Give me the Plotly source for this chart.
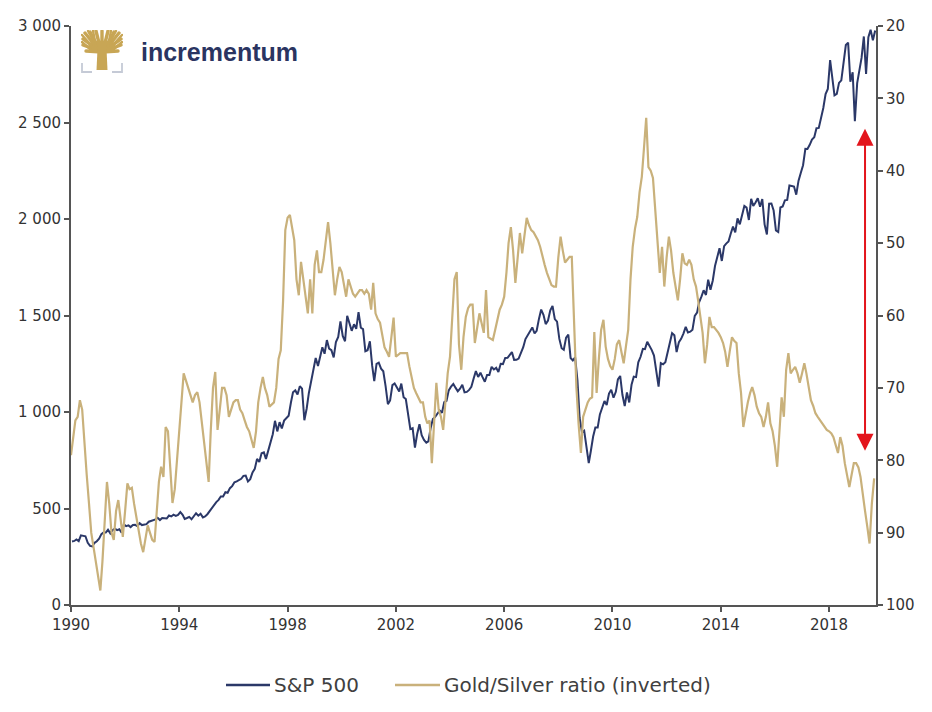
import base64
import pandas as pd
import plotly.graph_objects as go

# ---------------- data (monthly, Jan 1990 - Sep 2019) ----------------
sp500 = [
    329.1, 331.9, 339.9, 330.8, 361.2, 358.0, 356.2, 322.6, 306.1, 304.0, 322.2, 330.2,   # 1990
    343.9, 367.1, 375.2, 375.3, 389.8, 371.2, 387.8, 395.4, 387.9, 392.5, 375.2, 417.1,   # 1991
    408.8, 412.7, 403.7, 414.9, 415.4, 408.1, 424.2, 414.0, 417.8, 418.7, 431.4, 435.7,   # 1992
    438.8, 443.4, 451.7, 440.2, 450.2, 451.0, 448.1, 463.6, 458.9, 467.8, 461.8, 466.5,   # 1993
    481.6, 467.1, 445.8, 450.9, 456.5, 444.3, 458.3, 475.5, 462.7, 472.4, 454.0, 459.3,   # 1994
    470.4, 487.4, 500.7, 514.7, 533.4, 544.8, 562.1, 561.9, 584.4, 581.5, 605.4, 615.9,   # 1995
    636.0, 640.4, 645.5, 654.2, 669.1, 670.6, 639.9, 652.0, 687.3, 705.3, 757.0, 740.7,   # 1996
    786.2, 790.8, 757.1, 801.3, 848.3, 885.1, 954.3, 899.5, 947.3, 914.6, 955.4, 970.4,   # 1997
    980.3, 1049.3, 1101.8, 1111.8, 1090.8, 1133.8, 1120.7, 957.3, 1017.0, 1098.7, 1163.6, 1229.2,  # 1998
    1279.6, 1238.3, 1286.4, 1335.2, 1301.8, 1372.7, 1328.7, 1320.4, 1282.7, 1362.9, 1388.9, 1469.3,  # 1999
    1394.5, 1366.4, 1498.6, 1452.4, 1420.6, 1454.6, 1430.8, 1517.7, 1436.5, 1429.4, 1315.2, 1320.3,  # 2000
    1366.0, 1239.9, 1160.3, 1249.5, 1255.8, 1224.4, 1211.2, 1133.6, 1040.9, 1059.8, 1139.5, 1148.1,  # 2001
    1130.2, 1106.7, 1147.4, 1076.9, 1067.1, 989.8, 911.6, 916.1, 815.3, 885.8, 936.3, 879.8,   # 2002
    855.7, 841.2, 848.2, 916.9, 963.6, 974.5, 990.3, 1008.0, 996.0, 1050.7, 1058.2, 1111.9,   # 2003
    1131.1, 1144.9, 1126.2, 1107.3, 1120.7, 1140.8, 1101.7, 1104.2, 1114.6, 1130.2, 1173.8, 1211.9,  # 2004
    1181.3, 1203.6, 1180.6, 1156.9, 1191.5, 1191.3, 1234.2, 1220.3, 1228.8, 1207.0, 1249.5, 1248.3,  # 2005
    1280.1, 1280.7, 1294.9, 1310.6, 1270.1, 1270.2, 1276.7, 1303.8, 1335.9, 1377.9, 1400.6, 1418.3,  # 2006
    1438.2, 1406.8, 1420.9, 1482.4, 1530.6, 1503.4, 1455.3, 1474.0, 1526.8, 1549.4, 1481.1, 1468.4,  # 2007
    1378.6, 1330.6, 1322.7, 1385.6, 1400.4, 1280.0, 1267.4, 1282.8, 1166.4, 968.8, 896.2, 903.3,   # 2008
    825.9, 735.1, 797.9, 872.8, 919.1, 919.3, 987.5, 1020.6, 1057.1, 1036.2, 1095.6, 1115.1,   # 2009
    1073.9, 1104.5, 1169.4, 1186.7, 1089.4, 1030.7, 1101.6, 1049.3, 1141.2, 1183.3, 1180.6, 1257.6,  # 2010
    1286.1, 1327.2, 1325.8, 1363.6, 1345.2, 1320.6, 1292.3, 1218.9, 1131.4, 1253.3, 1247.0, 1257.6,  # 2011
    1312.4, 1365.7, 1408.5, 1397.9, 1310.3, 1362.2, 1379.3, 1406.6, 1440.7, 1412.2, 1416.2, 1426.2,  # 2012
    1498.1, 1514.7, 1569.2, 1597.6, 1630.7, 1606.3, 1685.7, 1633.0, 1681.6, 1756.5, 1805.8, 1848.4,  # 2013
    1782.6, 1859.5, 1872.3, 1883.9, 1923.6, 1960.2, 1930.7, 2003.4, 1972.3, 2018.1, 2067.6, 2058.9,  # 2014
    1995.0, 2104.5, 2067.9, 2085.5, 2107.4, 2063.1, 2103.8, 1972.2, 1920.0, 2079.4, 2080.4, 2043.9,  # 2015
    1940.2, 1932.2, 2059.7, 2065.3, 2096.9, 2098.9, 2173.6, 2171.0, 2168.3, 2126.2, 2198.8, 2238.8,  # 2016
    2278.9, 2363.6, 2362.7, 2384.2, 2411.8, 2423.4, 2470.3, 2471.7, 2519.4, 2575.3, 2647.6, 2673.6,  # 2017
    2823.8, 2713.8, 2640.9, 2648.1, 2705.3, 2718.4, 2816.3, 2901.5, 2914.0, 2711.7, 2760.2, 2506.9,  # 2018
    2704.1, 2784.5, 2834.4, 2945.8, 2752.1, 2941.8, 2980.4, 2926.5, 2976.7,                          # 2019
]

gold_silver_ratio = [
    79.3, 77.0, 74.5, 74.0, 71.7, 73.0, 78.0, 82.0, 86.0, 90.0, 92.0, 94.0,   # 1990
    96.0, 98.0, 94.0, 88.0, 83.0, 86.0, 90.0, 91.0, 87.0, 85.5, 88.0, 90.6,   # 1991
    87.0, 83.2, 84.0, 83.8, 86.0, 88.0, 90.0, 91.5, 92.7, 91.0, 89.0, 90.0,   # 1992
    91.0, 91.3, 87.0, 83.0, 80.9, 82.3, 75.4, 76.0, 81.0, 85.9, 84.0, 80.0,   # 1993
    77.2, 72.0, 68.0, 69.0, 70.0, 71.0, 72.0, 71.0, 70.6, 72.0, 75.0, 77.0,   # 1994
    80.0, 83.0, 76.0, 70.0, 67.8, 75.8, 73.0, 70.0, 70.0, 71.0, 74.0, 73.0,   # 1995
    72.0, 71.7, 71.7, 73.0, 73.5, 74.5, 75.4, 76.0, 77.0, 78.3, 76.0, 72.0,   # 1996
    70.0, 68.5, 70.0, 71.0, 72.6, 72.3, 72.0, 70.0, 66.0, 64.8, 58.0, 48.2,   # 1997
    46.5, 46.1, 48.0, 49.6, 55.0, 57.2, 52.6, 55.0, 58.0, 59.7, 55.0, 59.7,   # 1998
    53.0, 51.0, 54.0, 54.0, 52.3, 50.0, 47.1, 50.0, 54.0, 57.2, 55.0, 53.3,   # 1999
    54.0, 55.5, 57.4, 55.0, 56.0, 57.0, 57.4, 57.0, 56.5, 56.5, 57.0, 56.5,   # 2000
    57.0, 59.2, 55.5, 59.7, 60.5, 61.0, 62.5, 64.4, 65.0, 65.7, 63.0, 60.3,   # 2001
    65.7, 65.5, 65.2, 65.2, 65.2, 65.2, 67.0, 68.5, 70.0, 70.7, 71.5, 72.0,   # 2002
    72.0, 74.0, 74.9, 74.5, 80.4, 75.0, 69.3, 73.0, 74.0, 75.8, 72.0, 68.0,   # 2003
    65.7, 60.0, 55.0, 54.0, 64.0, 67.5, 63.0, 60.2, 59.0, 58.5, 58.5, 63.8,   # 2004
    62.0, 59.7, 61.0, 62.4, 56.5, 63.0, 63.2, 63.4, 62.0, 60.5, 59.2, 58.5,   # 2005
    57.4, 54.0, 50.0, 47.8, 51.0, 55.5, 52.0, 48.6, 51.4, 49.0, 46.5, 47.5,   # 2006
    48.2, 48.5, 49.0, 49.6, 50.5, 51.9, 53.0, 54.1, 55.0, 55.8, 56.0, 56.0,   # 2007
    52.0, 49.1, 51.0, 52.7, 52.3, 51.9, 51.9, 62.4, 69.9, 75.0, 79.0, 74.0,   # 2008
    73.0, 72.0, 71.5, 71.3, 62.3, 70.7, 66.0, 62.0, 60.6, 64.3, 66.0, 67.0,   # 2009
    67.5, 66.0, 64.0, 63.4, 65.0, 66.6, 64.3, 62.0, 55.0, 50.5, 48.0, 46.4,   # 2010
    43.0, 40.8, 37.0, 32.7, 39.5, 40.0, 41.0, 45.0, 50.0, 54.1, 50.5, 56.0,   # 2011
    52.0, 49.1, 51.0, 54.1, 56.0, 57.9, 55.0, 51.4, 52.8, 53.0, 52.3, 53.0,   # 2012
    55.0, 56.0, 57.9, 60.0, 62.4, 66.6, 64.0, 60.2, 61.6, 61.6, 62.0, 62.4,   # 2013
    63.0, 63.8, 65.0, 67.1, 65.0, 63.0, 63.5, 63.8, 68.0, 70.7, 75.4, 73.5,   # 2014
    72.0, 70.7, 69.9, 71.0, 72.6, 73.5, 74.0, 75.4, 74.0, 72.0, 74.9, 76.0,   # 2015
    78.0, 80.9, 76.0, 71.3, 74.0, 67.5, 65.2, 68.0, 67.5, 67.1, 68.0, 69.3,   # 2016
    68.0, 66.6, 68.0, 70.0, 71.7, 72.5, 73.5, 74.0, 74.5, 74.9, 75.5, 75.8,   # 2017
    76.0, 76.3, 76.8, 78.0, 79.0, 76.8, 78.0, 80.4, 82.0, 83.7, 82.0, 80.4,   # 2018
    80.4, 81.0, 82.3, 85.0, 87.0, 89.2, 91.5, 86.0, 82.5,                     # 2019
]

series_names = ["S&P 500", "Gold/Silver ratio (inverted)"]
x_tick_years = ["1990", "1994", "1998", "2002", "2006", "2010", "2014", "2018"]
left_ticks = [0, 500, 1000, 1500, 2000, 2500, 3000]
left_tick_text = ["0", "500", "1 000", "1 500", "2 000", "2 500", "3 000"]
right_ticks = [20, 30, 40, 50, 60, 70, 80, 90, 100]

arrow_date = "2019-05-01"
arrow_top, arrow_bottom = 34.2, 78.9

# ---------------- styling ----------------
NAVY = "#2b3868"
GOLD = "#c9b17b"
AXIS = "#555555"
TXT = "#333333"
FONT = "DejaVu Sans"

# plot area in pixels: x 71..876, y 26..605
PL, PR, PT, PB = 71, 876, 26, 605
def px_x(p): return (p - PL) / (PR - PL)
def px_y(p): return (PB - p) / (PB - PT)

months = pd.date_range("1990-01-01", periods=len(gold_silver_ratio), freq="MS")
sp_dates = months + pd.Timedelta(days=14)

fig = go.Figure()
fig.add_trace(go.Scatter(x=sp_dates, y=sp500, name=series_names[0], mode="lines",
                         line=dict(color=NAVY, width=2), yaxis="y"))
fig.add_trace(go.Scatter(x=months, y=gold_silver_ratio, name=series_names[1],
                         mode="lines", line=dict(color=GOLD, width=2.2), yaxis="y2"))

axis_common = dict(showgrid=False, zeroline=False, showline=True, linecolor=AXIS, linewidth=2,
                   ticks="outside", ticklen=5, tickwidth=1.5, tickcolor=AXIS,
                   tickfont=dict(family=FONT, size=15, color=TXT))

fig.update_layout(
    width=932, height=712,
    margin=dict(l=PL, r=932 - PR, t=PT, b=712 - PB),
    paper_bgcolor="white", plot_bgcolor="white",
    font=dict(family=FONT, color=TXT),
    xaxis=dict(type="date", range=["1990-01-01", "2019-09-26"],
               tickvals=[f"{y}-01-01" for y in x_tick_years], ticktext=x_tick_years,
               **axis_common),
    yaxis=dict(range=[0, 3000], tickvals=left_ticks, ticktext=left_tick_text, **axis_common),
    yaxis2=dict(range=[100, 20], tickvals=right_ticks, ticktext=[str(v) for v in right_ticks],
                overlaying="y", side="right", **axis_common),
    showlegend=False,
)

# legend drawn below the plot (line sample + label)
legend_items = [(226, 270, NAVY), (395, 440, GOLD)]
for (x0, x1, col), name in zip(legend_items, series_names):
    fig.add_shape(type="line", xref="paper", yref="paper",
                  x0=px_x(x0), x1=px_x(x1), y0=px_y(685), y1=px_y(685),
                  line=dict(color=col, width=2.5))
    fig.add_annotation(text=name, xref="paper", yref="paper", x=px_x(x1 + 2), y=px_y(685),
                       xanchor="left", yanchor="middle", showarrow=False,
                       font=dict(family=FONT, size=20, color="#404040"))

# red double-headed arrow
fig.add_annotation(x=arrow_date, y=arrow_top, xref="x", yref="y2",
                   ax=arrow_date, ay=arrow_bottom, axref="x", ayref="y2",
                   text="", showarrow=True, arrowside="end+start",
                   arrowhead=2, startarrowhead=2, arrowsize=1.7, startarrowsize=1.7,
                   arrowwidth=2, arrowcolor="#e3151c")

# logo: tree icon (svg) + text
svg = """<svg xmlns='http://www.w3.org/2000/svg' viewBox='0 0 42 44'>
<g stroke='#c8a655' stroke-linecap='round' fill='none'>
<path d='M21 26 L21 1 M21 25 L15 1 M21 25 L27 1 M21 25 L9 2 M21 25 L33 2 M21 24 L4 3 M21 24 L38 3
 M21 23 L2 9 M21 23 L40 9 M21 22 L2 15 M21 22 L40 15 M21 22 L5 21 M21 22 L37 21' stroke-width='3.4'/>
<path d='M12 10 L7 1 M30 10 L35 1 M10 15 L1 5 M32 15 L41 5 M15 16 L12 1 M27 16 L30 1
 M9 19 L1 12 M33 19 L41 12' stroke-width='2.4'/>
</g>
<path d='M16.5 19 L25.5 19 L26.5 40 L15.5 40 Z' fill='#c8a655'/>
<path d='M1 33 L1 42 L11 42 M41 33 L41 42 L31 42' stroke='#c5cad6' stroke-width='1.8' fill='none'/>
</svg>"""
uri = "data:image/svg+xml;base64," + base64.b64encode(svg.encode()).decode()
fig.add_layout_image(dict(source=uri, xref="paper", yref="paper",
                          x=px_x(81), y=px_y(30), sizex=42 / 805, sizey=44 / 579,
                          xanchor="left", yanchor="top", sizing="stretch", layer="above"))
fig.add_annotation(text="incrementum", xref="paper", yref="paper",
                   x=px_x(139), y=px_y(52), xanchor="left", yanchor="middle",
                   showarrow=False,
                   font=dict(family="Liberation Sans", size=25, color="#2a3461", weight="bold"))

fig.write_html("out.html", config={"displayModeBar": False},
               post_script="document.body.style.margin='0';")
